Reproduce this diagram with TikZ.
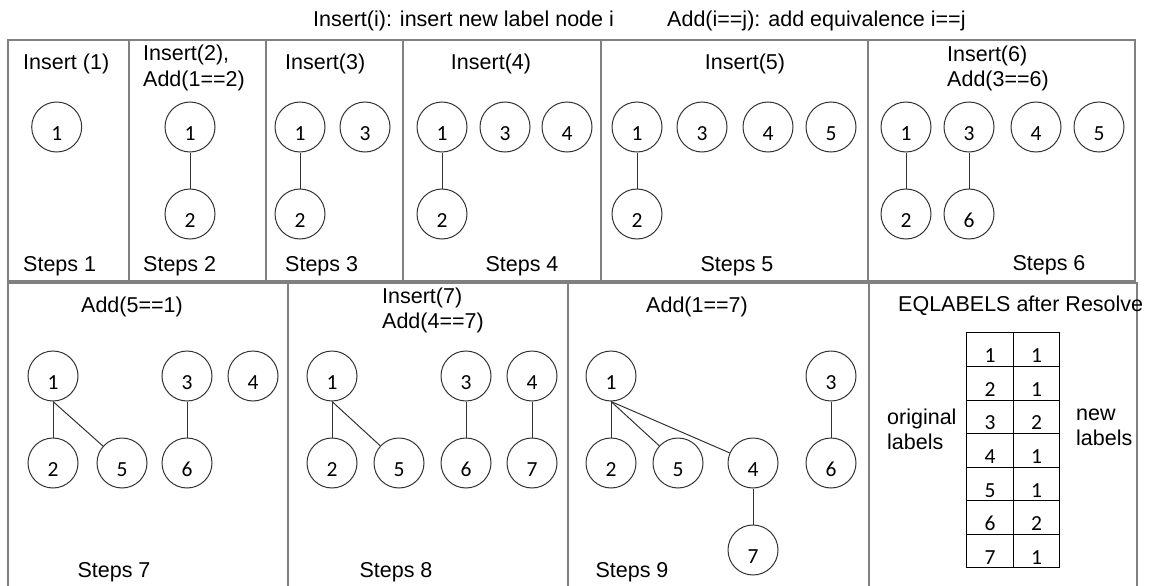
\documentclass[tikz,border=0pt]{standalone}
\usepackage{fontspec}
\setmainfont{Liberation Sans}
\newfontfamily\digitfont{Carlito}
\begin{document}
\begin{tikzpicture}[x=1pt,y=-1pt,
  every node/.style={font=\fontsize{21.5}{25}\selectfont, inner sep=0pt},
  panel/.style={draw=black!50, line width=1.5pt},
  circ/.style={circle, draw=black!80, line width=1pt, minimum size=50pt, inner sep=0pt,
    font=\digitfont\fontsize{21.5}{24}\selectfont, text height=26pt, text depth=0pt},
  cell/.style={rectangle, draw=black, line width=1pt, minimum width=46.5pt, minimum height=33.6pt,
    inner sep=0pt, font=\digitfont\fontsize{21.5}{24}\selectfont, text height=26pt, text depth=0pt},
  edge/.style={draw=black!80, line width=1pt},
  lw/.style={anchor=base west},
  lc/.style={anchor=base},
  ml/.style={anchor=base west, align=left},
]
\clip (0,0) rectangle (1160,586);
\fill[white] (0,0) rectangle (1160,586);

% panels
\draw[panel] (8,40) rectangle (129,281);
\draw[panel] (129,40) rectangle (266,281);
\draw[panel] (266,40) rectangle (403,281);
\draw[panel] (403,40) rectangle (601,281);
\draw[panel] (601,40) rectangle (868,281);
\draw[panel] (868,40) rectangle (1135,281);
\draw[panel] (8,283) rectangle (288,600);
\draw[panel] (288,283) rectangle (568,600);
\draw[panel] (568,283) rectangle (869,600);
\draw[panel] (869,283) rectangle (1137,600);

% header
\node[lw] (h1) at (313,27) {Insert(i): insert new label node i};
\node[lw] (h2) at (667,27) {Add(i==j): add equivalence i==j};

% top labels
\node[lw] (t1) at (23,70) {Insert (1)};
\node[ml] (t2) at (143,86) {Insert(2),\\Add(1==2)};
\node[lw] (t3) at (285,70) {Insert(3)};
\node[lc] (t4) at (491,69.5) {Insert(4)};
\node[lc] (t5) at (745,69.5) {Insert(5)};
\node[ml] (t6) at (947,87) {Insert(6)\\Add(3==6)};
\node[lw] (s1) at (23,271) {Steps 1};
\node[lw] (s2) at (143,271) {Steps 2};
\node[lw] (s3) at (285,271) {Steps 3};
\node[lc] (s4) at (522,271) {Steps 4};
\node[lc] (s5) at (737,271) {Steps 5};
\node[lc] (s6) at (1049,270) {Steps 6};

% bottom labels
\node[lc] (t7) at (132,312) {Add(5==1)};
\node[ml] (t8) at (382,328) {Insert(7)\\Add(4==7)};
\node[lc] (t9) at (697,312) {Add(1==7)};
\node[lw] (t10) at (898,311) {EQLABELS after Resolve};
\node[lc] (s7) at (114,577) {Steps 7};
\node[lc] (s8) at (396,577) {Steps 8};
\node[lc] (s9) at (632,577) {Steps 9};
\node[ml] (orig) at (887,449) {original\\labels};
\node[ml] (new) at (1076,445) {new\\labels};

% panel 1
\node[circ] (p1n1) at (56.7,127) {1};
% panel 2
\node[circ] (p2n1) at (190,127) {1};
\node[circ] (p2n2) at (190,214) {2};
\draw[edge] (p2n1.south) -- (p2n2.north);
% panel 3
\node[circ] (p3n1) at (300,127) {1};
\node[circ] (p3n3) at (365,127) {3};
\node[circ] (p3n2) at (300,214) {2};
\draw[edge] (p3n1.south) -- (p3n2.north);
% panel 4
\node[circ] (p4n1) at (442,127) {1};
\node[circ] (p4n3) at (505,127) {3};
\node[circ] (p4n4) at (567,127) {4};
\node[circ] (p4n2) at (442,214) {2};
\draw[edge] (p4n1.south) -- (p4n2.north);
% panel 5
\node[circ] (p5n1) at (637,127) {1};
\node[circ] (p5n3) at (702,127) {3};
\node[circ] (p5n4) at (768,127) {4};
\node[circ] (p5n5) at (831,127) {5};
\node[circ] (p5n2) at (637,214) {2};
\draw[edge] (p5n1.south) -- (p5n2.north);
% panel 6
\node[circ] (p6n1) at (906,127) {1};
\node[circ] (p6n3) at (969,127) {3};
\node[circ] (p6n4) at (1036,127) {4};
\node[circ] (p6n5) at (1099,127) {5};
\node[circ] (p6n2) at (906,214) {2};
\node[circ] (p6n6) at (969,214) {6};
\draw[edge] (p6n1.south) -- (p6n2.north);
\draw[edge] (p6n3.south) -- (p6n6.north);
% panel 7
\node[circ] (p7n1) at (53,376) {1};
\node[circ] (p7n2) at (53,463) {2};
\node[circ] (p7n5) at (122,463) {5};
\node[circ] (p7n3) at (187,376) {3};
\node[circ] (p7n6) at (187,463) {6};
\node[circ] (p7n4) at (253,376) {4};
\draw[edge] (p7n1.south) -- (p7n2.north);
\draw[edge] (p7n1.south) -- (p7n5);
\draw[edge] (p7n3.south) -- (p7n6.north);
% panel 8
\node[circ] (p8n1) at (332,376) {1};
\node[circ] (p8n2) at (332,463) {2};
\node[circ] (p8n5) at (399,463) {5};
\node[circ] (p8n3) at (466,376) {3};
\node[circ] (p8n6) at (466,463) {6};
\node[circ] (p8n4) at (532,376) {4};
\node[circ] (p8n7) at (532,463) {7};
\draw[edge] (p8n1.south) -- (p8n2.north);
\draw[edge] (p8n1.south) -- (p8n5);
\draw[edge] (p8n3.south) -- (p8n6.north);
\draw[edge] (p8n4.south) -- (p8n7.north);
% panel 9
\node[circ] (p9n1) at (611,376) {1};
\node[circ] (p9n2) at (611,463) {2};
\node[circ] (p9n5) at (678,463) {5};
\node[circ] (p9n4) at (753,463) {4};
\node[circ] (p9n7) at (753,550) {7};
\node[circ] (p9n3) at (831,376) {3};
\node[circ] (p9n6) at (831,463) {6};
\draw[edge] (p9n1.south) -- (p9n2.north);
\draw[edge] (p9n1.south) -- (p9n5);
\draw[edge] (p9n1.south) -- (p9n4);
\draw[edge] (p9n4.south) -- (p9n7.north);
\draw[edge] (p9n3.south) -- (p9n6.north);

% table
\foreach \i/\a/\b in {1/1/1,2/2/1,3/3/2,4/4/1,5/5/1,6/6/2,7/7/1} {
  \node[cell] (o\i) at (990,{316.2+33.57*\i}) {\a};
  \node[cell] (r\i) at (1036.5,{316.2+33.57*\i}) {\b};
}
\end{tikzpicture}
\end{document}
